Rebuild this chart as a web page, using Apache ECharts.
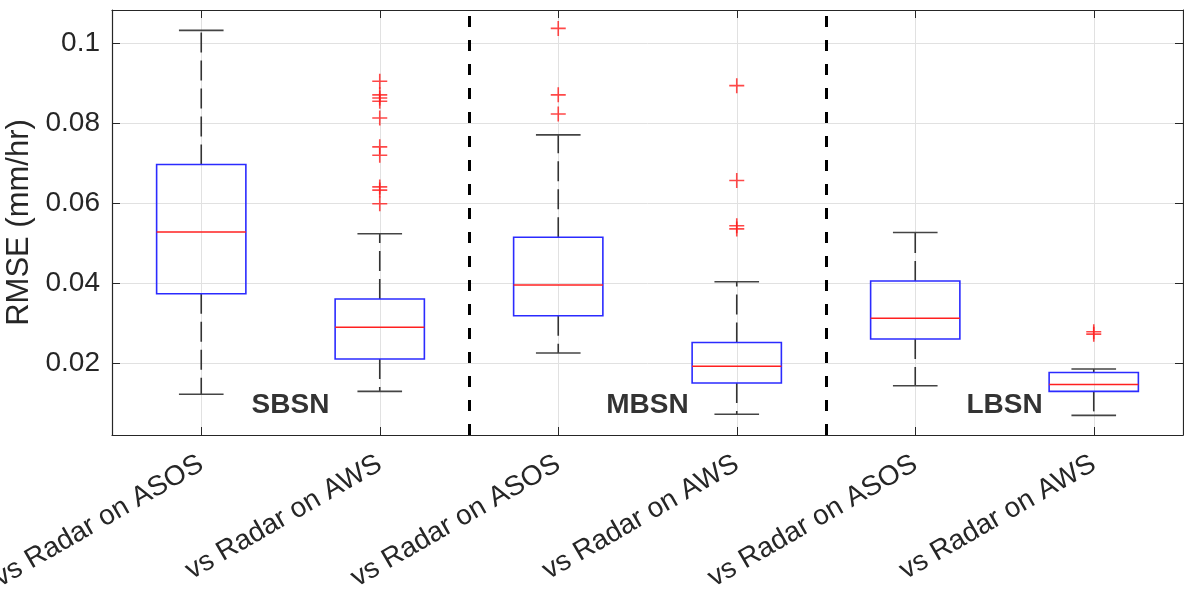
<!DOCTYPE html>
<html>
<head>
<meta charset="utf-8">
<script src="https://cdn.jsdelivr.net/npm/echarts@6/dist/echarts.min.js"></script>
<style>
html, body { margin: 0; padding: 0; background: #fff; }
#main { width: 1184px; height: 595px; }
</style>
</head>
<body>
<div id="main"></div>
<script>
// 类别与箱线图统计量
var categories = ['vs Radar on ASOS', 'vs Radar on AWS', 'vs Radar on ASOS', 'vs Radar on AWS', 'vs Radar on ASOS', 'vs Radar on AWS'];
var lowerWhisker = [0.0123, 0.0130, 0.0226, 0.0073, 0.0144, 0.0070];
var q1 = [0.0374, 0.0211, 0.0319, 0.0151, 0.0261, 0.0130];
var median = [0.0528, 0.0290, 0.0396, 0.0193, 0.0313, 0.0147];
var q3 = [0.0697, 0.0361, 0.0515, 0.0252, 0.0406, 0.0177];
var upperWhisker = [0.1032, 0.0524, 0.0771, 0.0404, 0.0527, 0.0186];

// 异常值 [类别序号, 值]
var outliers = [
    [1, 0.0905], [1, 0.0871], [1, 0.0863], [1, 0.0855], [1, 0.0813],
    [1, 0.0741], [1, 0.0720], [1, 0.0641], [1, 0.0633], [1, 0.0599],
    [2, 0.1037], [2, 0.0871], [2, 0.0823],
    [3, 0.0894], [3, 0.0657], [3, 0.0544], [3, 0.0536],
    [5, 0.0279], [5, 0.0273]
];

// 分组标注
var groupNames = ['SBSN', 'MBSN', 'LBSN'];
var groupPos = [[0.5, 0.0096], [2.5, 0.0096], [4.5, 0.0096]];
var separators = [1.5, 3.5];

var yTicks = [0.02, 0.04, 0.06, 0.08, 0.1];
var xTicks = [0, 1, 2, 3, 4, 5];

var myChart = echarts.init(document.getElementById('main'));

var boxData = categories.map(function (c, i) {
    return [i, lowerWhisker[i], q1[i], median[i], q3[i], upperWhisker[i]];
});

function renderBox(params, api) {
    var x = api.value(0);
    var lo = api.coord([x, api.value(1)]);
    var b1 = api.coord([x, api.value(2)]);
    var md = api.coord([x, api.value(3)]);
    var b3 = api.coord([x, api.value(4)]);
    var hi = api.coord([x, api.value(5)]);
    var half = api.size([0.5, 0])[0] / 2;
    var cap = half / 2;
    var cx = md[0];
    var whisk = { stroke: '#333', lineWidth: 1.6, lineDash: [20, 8] };
    var capStyle = { stroke: '#444', lineWidth: 1.6 };
    return {
        type: 'group',
        children: [
            { type: 'line', shape: { x1: cx, y1: b3[1], x2: cx, y2: hi[1] }, style: whisk },
            { type: 'line', shape: { x1: cx, y1: b1[1], x2: cx, y2: lo[1] }, style: whisk },
            { type: 'line', shape: { x1: cx - cap, y1: hi[1], x2: cx + cap, y2: hi[1] }, style: capStyle },
            { type: 'line', shape: { x1: cx - cap, y1: lo[1], x2: cx + cap, y2: lo[1] }, style: capStyle },
            {
                type: 'rect',
                shape: { x: cx - half, y: b3[1], width: half * 2, height: b1[1] - b3[1] },
                style: { fill: 'none', stroke: '#2b2bff', lineWidth: 1.6 }
            },
            { type: 'line', shape: { x1: cx - half, y1: md[1], x2: cx + half, y2: md[1] }, style: { stroke: '#ff2020', lineWidth: 1.5 } }
        ]
    };
}

var textColor = '#262626';
var font = 'Liberation Sans, Arial, sans-serif';

var option = {
    animation: false,
    backgroundColor: '#fff',
    grid: {
        left: 112,
        right: 1,
        top: 10,
        bottom: 160,
        containLabel: false,
        outerBoundsMode: 'none'
    },
    xAxis: [
        {
            type: 'value',
            min: -0.5,
            max: 5.5,
            position: 'bottom',
            axisLine: { show: true, onZero: false, lineStyle: { color: textColor, width: 1.2 } },
            axisTick: { show: true, inside: true, length: 8, customValues: xTicks, lineStyle: { color: textColor } },
            axisLabel: {
                show: true,
                customValues: xTicks,
                rotate: 30,
                margin: 27,
                color: textColor,
                fontSize: 28,
                fontFamily: font,
                formatter: function (v) { return categories[Math.round(v)]; }
            },
            splitLine: { show: true, lineStyle: { color: '#e1e1e1', width: 1 } }
        },
        {
            type: 'value',
            min: -0.5,
            max: 5.5,
            position: 'top',
            axisLine: { show: true, onZero: false, lineStyle: { color: textColor, width: 1.2 } },
            axisTick: { show: true, inside: true, length: 8, customValues: xTicks, lineStyle: { color: textColor } },
            axisLabel: { show: false, customValues: xTicks },
            splitLine: { show: false }
        }
    ],
    yAxis: [
        {
            type: 'value',
            min: 0.0021,
            max: 0.1083,
            position: 'left',
            name: 'RMSE (mm/hr)',
            nameLocation: 'middle',
            nameGap: 71,
            nameTextStyle: { color: textColor, fontSize: 31, fontFamily: font },
            axisLine: { show: true, onZero: false, lineStyle: { color: textColor, width: 1.2 } },
            axisTick: { show: true, inside: true, length: 8, customValues: yTicks, lineStyle: { color: textColor } },
            axisLabel: {
                show: true,
                customValues: yTicks,
                margin: 12,
                color: textColor,
                fontSize: 28,
                fontFamily: font,
                formatter: function (v) { return String(+v.toFixed(2)); }
            },
            splitLine: { show: true, lineStyle: { color: '#e1e1e1', width: 1 } }
        },
        {
            type: 'value',
            min: 0.0021,
            max: 0.1083,
            position: 'right',
            axisLine: { show: true, onZero: false, lineStyle: { color: textColor, width: 1.2 } },
            axisTick: { show: true, inside: true, length: 8, customValues: yTicks, lineStyle: { color: textColor } },
            axisLabel: { show: false, customValues: yTicks },
            splitLine: { show: false }
        }
    ],
    series: [
        {
            name: 'box',
            type: 'custom',
            xAxisIndex: 0,
            yAxisIndex: 0,
            renderItem: renderBox,
            encode: { x: 0, y: [1, 2, 3, 4, 5] },
            data: boxData,
            z: 3
        },
        {
            name: 'outlier',
            type: 'scatter',
            xAxisIndex: 0,
            yAxisIndex: 0,
            symbol: 'path://M0,5L10,5M5,0L5,10',
            symbolSize: 15,
            itemStyle: { color: 'none', borderColor: '#ff1a1a', borderWidth: 1.6 },
            data: outliers,
            z: 4
        },
        {
            name: 'groups',
            type: 'scatter',
            xAxisIndex: 0,
            yAxisIndex: 0,
            symbolSize: 0,
            silent: true,
            label: {
                show: true,
                position: 'inside',
                formatter: '{b}',
                color: '#000',
                fontSize: 28,
                fontWeight: 'bold',
                fontFamily: font
            },
            data: groupNames.map(function (n, i) {
                return { name: n, value: groupPos[i] };
            }),
            markLine: {
                silent: true,
                symbol: ['none', 'none'],
                label: { show: false },
                lineStyle: { color: '#000', width: 3, type: [11, 13] },
                data: separators.map(function (s) { return { xAxis: s }; })
            },
            z: 5
        }
    ]
};

myChart.setOption(option);
window.onresize = myChart.resize;
</script>
</body>
</html>
